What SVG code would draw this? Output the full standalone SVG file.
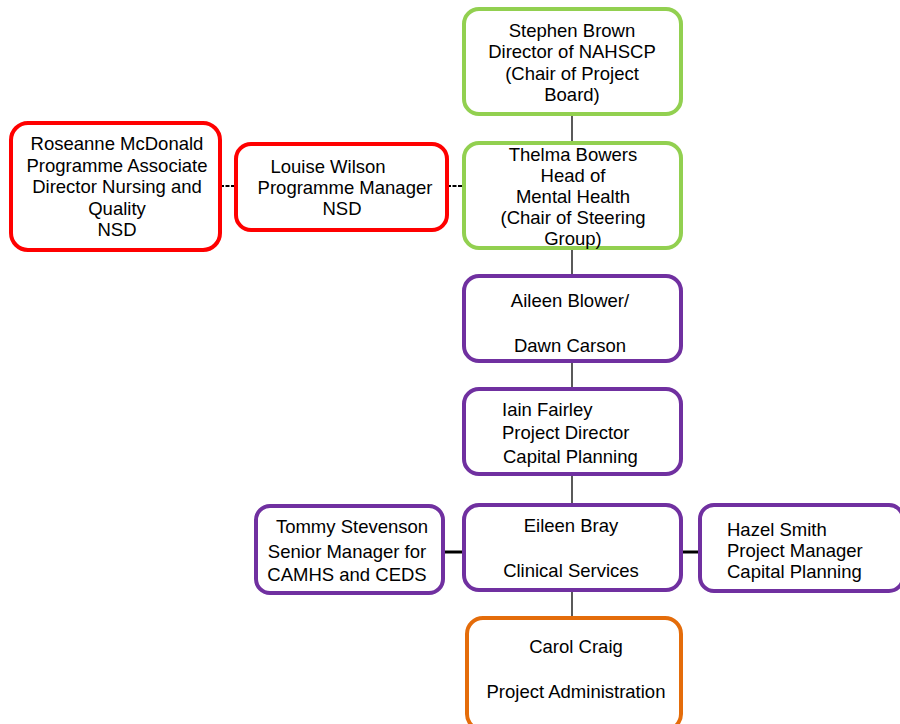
<svg xmlns="http://www.w3.org/2000/svg" width="900" height="724" viewBox="0 0 900 724">
<style>
.b{fill:#fff;stroke-width:4}
.g{stroke:#92D050}
.r{stroke:#FF0000}
.p{stroke:#7030A0}
.o{stroke:#E46C0A}
text{font-family:"Liberation Sans",Arial,sans-serif;font-size:18.5px;fill:#000}
.c{text-anchor:middle}
.ln{stroke:#000;stroke-width:1.3;fill:none}
.dl{stroke:#000;stroke-width:2;stroke-dasharray:4,1.5;fill:none}
.tl{stroke:#000;stroke-width:3;fill:none}
</style>
<rect width="900" height="724" fill="#fff"/>
<g id="connectors">
<line class="ln" x1="572" y1="114" x2="572" y2="143"/>
<line class="ln" x1="572" y1="248" x2="572" y2="276"/>
<line class="ln" x1="572" y1="361" x2="572" y2="389"/>
<line class="ln" x1="572" y1="474" x2="572" y2="505"/>
<line class="ln" x1="572" y1="590" x2="572" y2="618"/>
<line class="dl" x1="220" y1="186" x2="236" y2="186"/>
<line class="dl" x1="447" y1="186" x2="464" y2="186"/>
<line class="tl" x1="443" y1="552" x2="464" y2="552"/>
<line class="tl" x1="681" y1="552" x2="700" y2="552"/>
</g>
<g id="stephen">
<rect class="b g" x="464" y="9" width="217" height="105" rx="15"/>
<text class="c" x="572" y="37">Stephen Brown</text>
<text class="c" x="572" y="58">Director of NAHSCP</text>
<text class="c" x="572" y="80">(Chair of Project</text>
<text class="c" x="572" y="101">Board)</text>
</g>
<g id="thelma">
<rect class="b g" x="464" y="143" width="217" height="105" rx="15"/>
<text class="c" x="573" y="161">Thelma Bowers</text>
<text class="c" x="573" y="182">Head of</text>
<text class="c" x="573" y="203">Mental Health</text>
<text class="c" x="573" y="224">(Chair of Steering</text>
<text class="c" x="573" y="245">Group)</text>
</g>
<g id="roseanne">
<rect class="b r" x="11" y="123" width="209" height="127" rx="17"/>
<text class="c" x="117" y="150">Roseanne McDonald</text>
<text class="c" x="117" y="172">Programme Associate</text>
<text class="c" x="117" y="193">Director Nursing and</text>
<text class="c" x="117" y="215">Quality</text>
<text class="c" x="117" y="236">NSD</text>
</g>
<g id="louise">
<rect class="b r" x="236" y="144" width="211" height="86" rx="15"/>
<text class="c" x="328" y="173">Louise Wilson</text>
<text class="c" x="345" y="194">Programme Manager</text>
<text class="c" x="342" y="215">NSD</text>
</g>
<g id="aileen">
<rect class="b p" x="464" y="276" width="217" height="85" rx="15"/>
<text class="c" x="570" y="307">Aileen Blower/</text>
<text class="c" x="570" y="352">Dawn Carson</text>
</g>
<g id="iain">
<rect class="b p" x="464" y="389" width="217" height="85" rx="15"/>
<text x="502" y="416">Iain Fairley</text>
<text x="502" y="439">Project Director</text>
<text x="503" y="463">Capital Planning</text>
</g>
<g id="eileen">
<rect class="b p" x="464" y="505" width="217" height="85" rx="15"/>
<text class="c" x="571" y="532">Eileen Bray</text>
<text class="c" x="571" y="577">Clinical Services</text>
</g>
<g id="tommy">
<rect class="b p" x="256" y="506" width="187" height="87" rx="14"/>
<text class="c" x="352" y="533">Tommy Stevenson</text>
<text class="c" x="347" y="558">Senior Manager for</text>
<text class="c" x="347" y="581">CAMHS and CEDS</text>
</g>
<g id="hazel">
<rect class="b p" x="700" y="505" width="203" height="86" rx="14"/>
<text x="727" y="536">Hazel Smith</text>
<text x="727" y="557">Project Manager</text>
<text x="727" y="578">Capital Planning</text>
</g>
<g id="carol">
<rect class="b o" x="467" y="618" width="214" height="112" rx="16"/>
<text class="c" x="576" y="653">Carol Craig</text>
<text class="c" x="576" y="698">Project Administration</text>
</g>
</svg>
